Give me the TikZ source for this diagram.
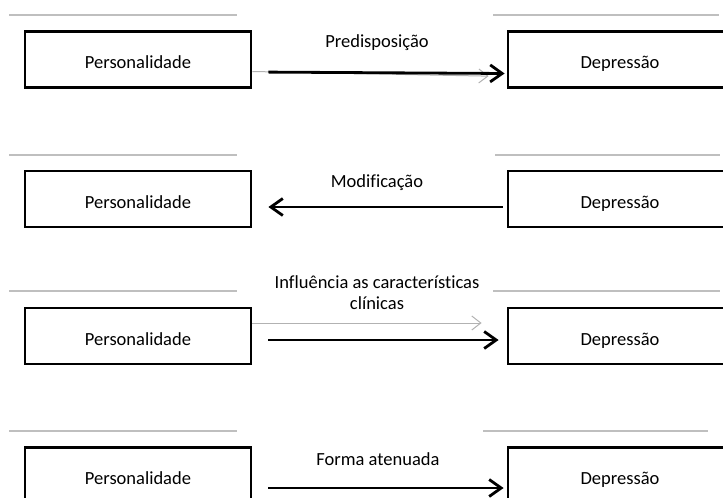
\documentclass[tikz,border=0pt]{standalone}
\usepackage{fontspec}
\setmainfont{Carlito}[Ligatures=NoCommon]
\usetikzlibrary{arrows.meta}
\begin{document}
\begin{tikzpicture}[x=1pt,y=-1pt,
  box/.style={draw=black,line width=2.8pt,minimum width=226pt,minimum height=56pt,inner sep=0pt,text height=18pt,text depth=0pt,font=\fontsize{18.5}{21.5}\selectfont},
  rbox/.style={box,minimum width=224pt},
  lbl/.style={font=\fontsize{18.5}{21.5}\selectfont,align=center,inner sep=0pt},
  sepline/.style={draw=black!25,line width=2pt},
  arr/.style={line width=2.8pt,-{Straight Barb[length=12pt,width=17pt]}},
  ghost/.style={draw=black!30,line width=1pt,-{Straight Barb[length=9pt,width=14pt]}}]
\useasboundingbox (0,0) rectangle (723,498);
\clip (0,0) rectangle (723,498);

% separator lines
\draw[sepline] (9,15) -- (237,15);   \draw[sepline] (493,15) -- (719,15);
\draw[sepline] (9,155) -- (237,155); \draw[sepline] (495,155) -- (720,155);
\draw[sepline] (9,291) -- (237,291); \draw[sepline] (493,291) -- (720,291);
\draw[sepline] (9,431) -- (237,431); \draw[sepline] (483,431) -- (708,431);

% row 1
\node[box]  (p1) at (138,59.5) {Personalidade};
\node[rbox] (d1) at (620,59.5) {Depressão};
\node[lbl]  (l1) at (377,43) {Predisposição};
\draw[ghost,shorten >=18pt] ([yshift=-12pt]p1.east) -- ([yshift=-17pt]d1.west);
\draw[arr,shorten <=16pt,shorten >=2pt] ([yshift=-12.5pt]p1.east) -- ([yshift=-14pt]d1.west);

% row 2
\node[box]  (p2) at (138,199) {Personalidade};
\node[rbox] (d2) at (620,199) {Depressão};
\node[lbl]  (l2) at (377,183) {Modificação};
\draw[arr,shorten <=4pt,shorten >=16pt] ([yshift=-8pt]d2.west) -- ([yshift=-8pt]p2.east);

% row 3
\node[box]  (p3) at (138,336) {Personalidade};
\node[rbox] (d3) at (620,336) {Depressão};
\node[lbl]  (l3) at (377,292.5) {Influência as características\\clínicas};
\draw[ghost,shorten >=25pt] ([yshift=13pt]p3.east) -- ([yshift=13pt]d3.west);
\draw[arr,shorten <=16pt,shorten >=8pt] ([yshift=-4pt]p3.east) -- ([yshift=-4pt]d3.west);

% row 4
\node[box]  (p4) at (138,475.5) {Personalidade};
\node[rbox] (d4) at (620,475.5) {Depressão};
\node[lbl]  (l4) at (378,459) {Forma atenuada};
\draw[arr,shorten <=16pt,shorten >=3pt] ([yshift=-12.5pt]p4.east) -- ([yshift=-12.5pt]d4.west);
\end{tikzpicture}
\end{document}
